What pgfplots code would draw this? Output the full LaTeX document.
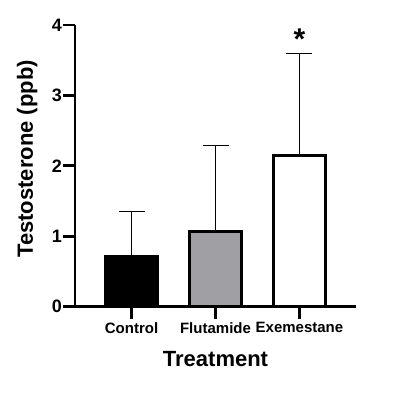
\documentclass[border=0pt]{standalone}
\usepackage{pgfplots}
\pgfplotsset{compat=1.18}
\usepackage{fontspec}
\setmainfont{Liberation Sans}
\begin{document}
\begin{tikzpicture}[x=1bp,y=1bp]
\useasboundingbox (0,0) rectangle (396,-414);
\begin{axis}[
  at={(75bp,-306.5bp)}, anchor=south west,
  scale only axis, width=281bp, height=281.5bp,
  xmin=-0.673, xmax=2.673, ymin=0, ymax=4,
  axis lines*=left,
  axis line style={line width=2.8bp, black},
  clip=false,
  ytick={0,1,2,3,4},
  xtick={0,1,2}, xticklabels={Control,Flutamide,Exemestane},
  tick align=outside, major tick length=12bp,
  tick style={line width=2.8bp, black},
  yticklabel style={font=\fontsize{18bp}{18bp}\selectfont\bfseries, inner sep=1bp},
  xticklabel style={font=\fontsize{15bp}{15bp}\selectfont\bfseries, inner sep=0pt, yshift=-3.5bp},
  /pgf/number format/assume math mode=true,
  ylabel={Testosterone (ppb)},
  ylabel style={at={(axis description cs:-0.1495,0.524)}, anchor=base, font=\fontsize{22bp}{22bp}\selectfont\bfseries},
  xlabel={Treatment},
  xlabel style={at={(axis description cs:0.5,-0.2139)}, anchor=base, font=\fontsize{22bp}{22bp}\selectfont\bfseries},
  error bars/error bar style={line width=1.3bp, black},
  error bars/error mark options={rotate=90, line width=1.3bp, mark size=13bp, black},
]
\addplot[ybar, bar width=52bp, bar shift=0pt, fill=black, draw=black, line width=3bp,
  error bars/.cd, y dir=plus, y explicit]
  coordinates {(0,0.714) +- (0,0.640)};
\addplot[ybar, bar width=52bp, bar shift=0pt, fill={rgb,255:red,160;green,160;blue,164}, draw=black, line width=3bp,
  error bars/.cd, y dir=plus, y explicit]
  coordinates {(1,1.071) +- (0,1.212)};
\addplot[ybar, bar width=52bp, bar shift=0pt, fill=white, draw=black, line width=3bp,
  error bars/.cd, y dir=plus, y explicit]
  coordinates {(2,2.143) +- (0,1.457)};
\node[anchor=base, font=\fontsize{30bp}{30bp}\selectfont\bfseries, inner sep=0pt] at (axis cs:2,3.65) {*};
\end{axis}
\end{tikzpicture}
\end{document}
